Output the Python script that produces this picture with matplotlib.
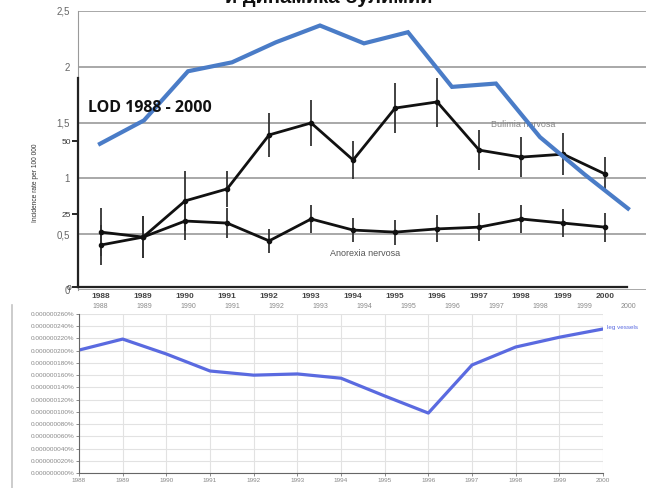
import numpy as np
import matplotlib
matplotlib.use('Agg')
import matplotlib.pyplot as plt
from matplotlib.lines import Line2D

W, H = 646, 488

# ── data ────────────────────────────────────────────────────────────
years = list(range(1988, 2001))

# верхний график (синяя линия, шкала 0..2,5)
top_blue = [1.31, 1.52, 1.96, 2.04, 2.22, 2.37, 2.21, 2.31, 1.82, 1.85, 1.37, 1.04, 0.73]
top_yticks = [0, 0.5, 1, 1.5, 2, 2.5]
top_ylabels = ['0', '0,5', '1', '1,5', '2', '2,5']

# средний график (LOD 1988 - 2000)
bulimia = [14.4, 17.1, 29.5, 33.6, 52.1, 56.2, 43.5, 61.3, 63.4, 46.9, 44.5, 45.5, 38.7]
bulimia_err = [6.8, 7.2, 10.3, 6.2, 7.5, 7.9, 6.5, 8.6, 8.6, 6.8, 6.8, 7.2, 5.8]
anorexia = [18.8, 17.1, 22.6, 21.9, 15.8, 23.3, 19.5, 18.8, 19.9, 20.5, 23.3, 21.9, 20.5]
anorexia_err = [8.2, 7.2, 6.5, 5.1, 4.1, 4.8, 4.1, 4.3, 4.6, 4.8, 4.8, 4.8, 5.0]
mid_yticks = [0, 25, 50]

# нижний график (leg vessels, %)
leg_vessels = [0.000000201, 0.000000219, 0.0000001946, 0.0000001668, 0.000000160,
               0.000000162, 0.000000155, 0.000000126, 0.000000098, 0.0000001766,
               0.000000206, 0.000000222, 0.0000002355]
bot_yticks = [i * 0.00000002 for i in range(14)]

plt.rcParams['font.family'] = ['Liberation Sans', 'DejaVu Sans']

fig = plt.figure(figsize=(W / 100, H / 100), dpi=100)
fig.patch.set_facecolor('white')


def px_axes(x0, y0, x1, y1, **kw):
    return fig.add_axes([x0 / W, 1 - y1 / H, (x1 - x0) / W, (y1 - y0) / H], **kw)


# ── верхний график: сетка и подписи ─────────────────────────────────
top_rect = (78, 11, 646, 290)
ax_top = px_axes(*top_rect)
ax_top.set_facecolor('none')
ax_top.set_xlim(1987.5, 2000.41)
ax_top.set_ylim(0, 2.5)
ax_top.set_yticks(top_yticks)
ax_top.set_yticklabels(top_ylabels)
ax_top.grid(True, axis='y', color='#9a9a9a', lw=1.2)
ax_top.set_xticks(years)
ax_top.set_xticklabels([str(y) for y in years])
ax_top.tick_params(axis='y', length=0, pad=6, labelsize=7, labelcolor='#666666')
ax_top.tick_params(axis='x', length=0, pad=9, labelsize=5, labelcolor='#8a8a8a')
for s in ['top', 'right', 'bottom']:
    ax_top.spines[s].set_visible(False)
ax_top.spines['left'].set_color('#9a9a9a')

# ── средний график ─────────────────────────────────────────────────
ax_mid = px_axes(78, 78, 627, 287)
ax_mid.set_facecolor('none')
ax_mid.set_xlim(1987.45, 2000.52)
ax_mid.set_ylim(0, 71.6)
ax_mid.errorbar(years, bulimia, yerr=bulimia_err, fmt='-o', color='#111111', lw=2,
                ms=3, ecolor='#333333', elinewidth=1.3, capsize=0)
ax_mid.errorbar(years, anorexia, yerr=anorexia_err, fmt='-o', color='#111111', lw=2,
                ms=3, ecolor='#333333', elinewidth=1.3, capsize=0)
ax_mid.set_yticks(mid_yticks)
ax_mid.set_xticks(years)
ax_mid.set_xticklabels([str(y) for y in years], fontweight='bold')
ax_mid.tick_params(axis='y', length=4, width=1.2, pad=1, labelsize=6, labelcolor='#333333')
ax_mid.tick_params(axis='x', length=0, pad=4, labelsize=6, labelcolor='#444444')
for s in ['top', 'right']:
    ax_mid.spines[s].set_visible(False)
for s in ['left', 'bottom']:
    ax_mid.spines[s].set_color('#222222')
    ax_mid.spines[s].set_linewidth(1.6)
ax_mid.set_ylabel('Incidence rate per 100 000', fontsize=4.8, color='#333333', labelpad=16)
ax_mid.text(1997.28, 55.5, 'Bulimia nervosa', fontsize=6.5, color='#888888', va='center')
ax_mid.text(1993.45, 11.6, 'Anorexia nervosa', fontsize=6.5, color='#555555', va='center')

# ── синяя линия поверх ─────────────────────────────────────────────
ax_blue = px_axes(*top_rect)
ax_blue.set_xlim(1987.5, 2000.41)
ax_blue.set_ylim(0, 2.5)
ax_blue.axis('off')
ax_blue.plot(years, top_blue, color='#4a7cc7', lw=3, solid_joinstyle='miter')

fig.text(88 / W, 1 - 108 / H, 'LOD 1988 - 2000', fontsize=11.5, fontweight='bold',
         family=['Open Sans', 'DejaVu Sans'], va='center', ha='left', color='#111111')

# заголовок (обрезан сверху)
fig.text(329 / W, 1 - 3 / H, 'и динамика булимии', fontsize=14.5, fontweight='bold',
         ha='center', va='baseline', color='#111111')

# ── нижний график ──────────────────────────────────────────────────
ax_bot = px_axes(79, 314, 603, 473)
ax_bot.set_xlim(1988, 2000)
ax_bot.set_ylim(0, 0.00000026)
ax_bot.plot(years, leg_vessels, color='#5a6ae0', lw=2.3)
ax_bot.set_yticks(bot_yticks)
ax_bot.set_yticklabels(['{:.9f}%'.format(v) for v in bot_yticks])
ax_bot.set_xticks(years)
ax_bot.grid(True, color='#e2e2e2', lw=0.8)
ax_bot.set_axisbelow(True)
ax_bot.tick_params(length=2, width=0.6, color='#777777', labelsize=4.6,
                   labelcolor='#888888', pad=1.5)
for s in ['top', 'right']:
    ax_bot.spines[s].set_visible(False)
for s in ['left', 'bottom']:
    ax_bot.spines[s].set_color('#666666')
    ax_bot.spines[s].set_linewidth(0.8)
ax_bot.annotate('leg vessels', xy=(2000, leg_vessels[-1]), xytext=(3, 1),
                textcoords='offset points', fontsize=4.5, color='#5a6ae0',
                va='center', annotation_clip=False)

fig.add_artist(Line2D([12 / W, 12 / W], [0, 1 - 305 / H], color='#c4c4c4', lw=1.2))

fig.savefig('out.png', dpi=100)
